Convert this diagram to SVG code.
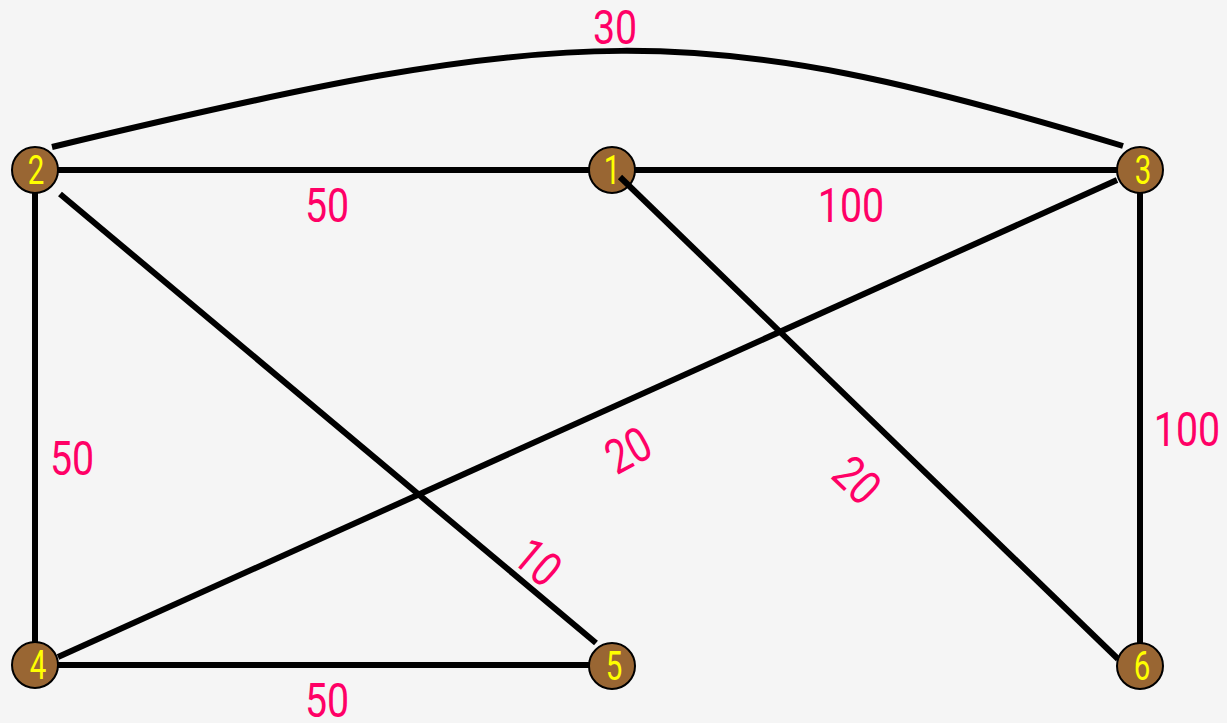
<svg xmlns="http://www.w3.org/2000/svg" width="1227" height="723" viewBox="0 0 1227 723">
<style>
.edge{stroke:#000;stroke-width:6;fill:none}
.node circle{fill:#996633;stroke:#000;stroke-width:2}
.node text{fill:#ffff00;font-family:Roboto,"DejaVu Sans Condensed",sans-serif;font-size:41px;text-anchor:middle}
.lbl{fill:#ff0066;font-family:Roboto,"DejaVu Sans Condensed",sans-serif;font-size:48px;text-anchor:middle}
</style>
<rect width="1227" height="723" fill="#f5f5f5"/>
<g id="edges">
<line class="edge" x1="58" y1="170" x2="589" y2="170"/>
<line class="edge" x1="635" y1="170" x2="1117" y2="170"/>
<path class="edge" d="M52,147 C572,22 693,16 1123,146"/>
<line class="edge" x1="35" y1="193" x2="35" y2="642"/>
<line class="edge" x1="60" y1="194" x2="596" y2="643"/>
<line class="edge" x1="1117" y1="180" x2="58" y2="657"/>
<line class="edge" x1="1140" y1="193" x2="1140" y2="643"/>
<line class="edge" x1="58" y1="665" x2="589" y2="665"/>
</g>
<g id="n1" class="node"><circle cx="612" cy="170" r="23"/><text transform="translate(612,184) scale(0.72,1)">1</text></g>
<g id="n2" class="node"><circle cx="35" cy="170" r="23"/><text transform="translate(36,184) scale(0.72,1)">2</text></g>
<g id="n3" class="node"><circle cx="1140" cy="170" r="23"/><text transform="translate(1143,184) scale(0.72,1)">3</text></g>
<g id="n4" class="node"><circle cx="35" cy="665" r="23"/><text transform="translate(38,679) scale(0.72,1)">4</text></g>
<g id="n5" class="node"><circle cx="612" cy="666" r="23"/><text transform="translate(614,680) scale(0.72,1)">5</text></g>
<g id="n6" class="node"><circle cx="1140" cy="666" r="23"/><text transform="translate(1142,680) scale(0.72,1)">6</text></g>
<g id="edges-over">
<line class="edge" x1="620" y1="177" x2="1118" y2="659"/>
</g>
<g id="labels">
<text class="lbl" transform="translate(615,44) scale(0.82,1)">30</text>
<text class="lbl" transform="translate(327,222) scale(0.82,1)">50</text>
<text class="lbl" transform="translate(851,222) scale(0.82,1)">100</text>
<text class="lbl" transform="translate(1187,446) scale(0.82,1)">100</text>
<text class="lbl" transform="translate(72,475) scale(0.82,1)">50</text>
<text class="lbl" transform="translate(327,717) scale(0.82,1)">50</text>
<text class="lbl" transform="translate(628,450) rotate(-28) translate(0,17) scale(0.82,1)">20</text>
<text class="lbl" transform="translate(857,480) rotate(44) translate(0,17) scale(0.82,1)">20</text>
<text class="lbl" transform="translate(538,562) rotate(40) translate(0,17) scale(0.82,1)">10</text>
</g>
</svg>
